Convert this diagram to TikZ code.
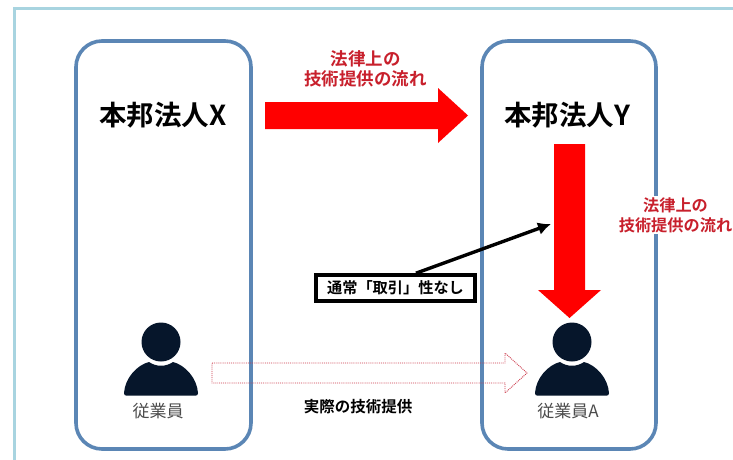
\documentclass[tikz,border=0pt]{standalone}
\usepackage{fontspec}
\usetikzlibrary{arrows.meta}
\setmainfont{Liberation Sans}
\newfontfamily\cjk{Noto Sans CJK JP}
\newfontfamily\cjkb{Noto Sans CJK JP Bold}
\definecolor{framec}{HTML}{A8D4E0}
\definecolor{boxc}{HTML}{5B86B5}
\definecolor{flowred}{HTML}{C8202C}
\definecolor{arrowred}{HTML}{FF0000}
\definecolor{person}{HTML}{06162B}
\definecolor{dotred}{HTML}{CC3A4A}
\tikzset{
  px/.style={x=1pt,y=-1pt},
  entity/.style={draw=boxc,line width=3.6pt,rounded corners=26pt,fill=none},
  title/.style={font=\cjkb\fontsize{27.5}{30}\selectfont,text=black,inner sep=0pt},
  flow/.style={font=\cjkb\fontsize{17.5}{20}\selectfont,text=flowred,align=center,inner sep=1pt},
  staff/.style={font=\cjk\fontsize{17}{19}\selectfont,text=black!70,inner sep=0pt},
  bigarrow/.style={fill=arrowred,draw=none},
  dotarrow/.style={draw=dotred,densely dotted,line width=0.9pt,fill=none},
  persona/.style={fill=person,draw=none},
}
\begin{document}
\begin{tikzpicture}[px]
\useasboundingbox (0,0) rectangle (733,460);
\fill[white] (0,0) rectangle (733,460);
\draw[framec,line width=3pt] (14.5,470) -- (14.5,9) -- (745,9);
% entities
\draw[entity] (76,41) rectangle (251,449);
\draw[entity] (482,41) rectangle (656,449);
% titles
\node[title] (tx) at (163,115) {本邦法人X};
\node[title] (ty) at (567,115) {本邦法人Y};
% red arrows
\fill[bigarrow] (265,102) -- (438,102) -- (438,88) -- (468,115.5) -- (438,143) -- (438,129) -- (265,129) -- cycle;
\fill[bigarrow] (554,144) -- (585,144) -- (585,290) -- (601,290) -- (569.5,318) -- (538,290) -- (554,290) -- cycle;
\node[flow] (f1) at (365.5,69) {法律上の\\技術提供の流れ};
\node[flow,fill=white,font=\cjkb\fontsize{16.2}{20}\selectfont] (f2) at (675.5,215) {法律上の\\技術提供の流れ};
% persons
\fill[persona] (161,342) circle (19.5);
\fill[persona] (124,393) .. controls (125,378) and (137,365) .. (149,362) .. controls (156,367) and (166,367) .. (173,362) .. controls (185,365) and (197,378) .. (198,393) .. controls (198,395) and (197,395.5) .. (196,395.5) -- (126,395.5) .. controls (125,395.5) and (124,395) .. (124,393) -- cycle;
\begin{scope}[xshift=411pt]
\fill[persona] (161,342) circle (19.5);
\fill[persona] (124,393) .. controls (125,378) and (137,365) .. (149,362) .. controls (156,367) and (166,367) .. (173,362) .. controls (185,365) and (197,378) .. (198,393) .. controls (198,395) and (197,395.5) .. (196,395.5) -- (126,395.5) .. controls (125,395.5) and (124,395) .. (124,393) -- cycle;
\end{scope}
\node[staff] (sx) at (158,411) {従業員};
\node[staff] (sy) at (568,411) {従業員A};
% actual transfer
\draw[dotarrow] (212,363) -- (505,363) -- (505,353) -- (527,373) -- (505,393) -- (505,383) -- (212,383) -- cycle;
\node[font=\cjkb\fontsize{15.5}{17}\selectfont,inner sep=0pt] (act) at (358,407) {実際の技術提供};
% note
\node[draw=black,line width=3.6pt,fill=white,minimum width=159pt,minimum height=26pt,inner sep=0pt,font=\cjkb\fontsize{15.2}{17}\selectfont] (note) at (395.5,288) {通常「取引」性なし};
\coordinate (tip) at (551,224);
\draw[black,line width=3.4pt,-{Latex[length=13pt,width=13pt]}] ([xshift=20.5pt]note.north) -- (tip);
\end{tikzpicture}
\end{document}
